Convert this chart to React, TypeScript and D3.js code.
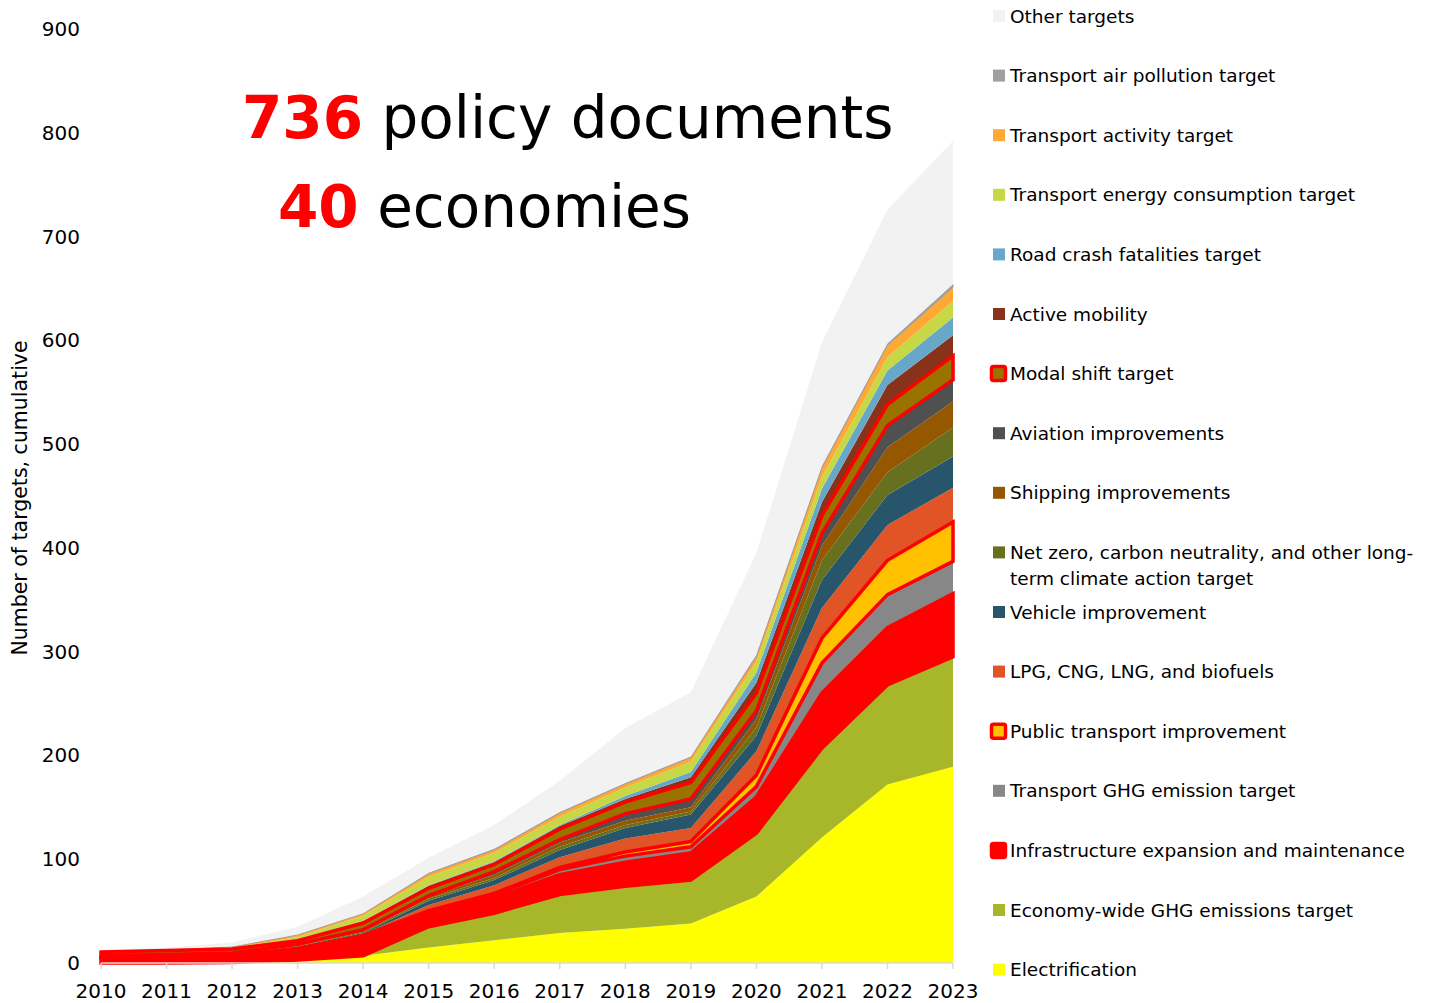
import React, { useEffect } from "react";
import * as d3 from "d3";

const years = [2010, 2011, 2012, 2013, 2014, 2015, 2016, 2017, 2018, 2019, 2020, 2021, 2022, 2023];
const yTicks = [0, 100, 200, 300, 400, 500, 600, 700, 800, 900];

// per-year values (not cumulative across series) for each series, bottom to top
const electrification = [0, 0, 0.5, 3, 7, 15, 22, 29, 33, 38, 64, 121, 172, 189];
const economyWide = [0, 0, 0, 0, 0, 20, 26, 37, 41, 42, 61, 86, 96, 106];
const infrastructure = [5, 6, 6.5, 10, 18, 13, 15, 19, 23, 26, 35, 53, 55, 61];
const transportGhg = [0.2, 0.2, 0.3, 0.5, 1, 2, 3, 5, 6, 6, 10, 29, 32, 31];
const publicTransport = [0.3, 0.3, 0.3, 0.5, 0.5, 0.5, 1, 2, 4, 5, 11, 24, 33, 38];
const lpgBiofuels = [0.5, 0.5, 0.6, 1, 1.5, 5.5, 8, 10, 13, 13, 23, 29, 34, 33];
const vehicleImprovement = [0.2, 0.2, 0.3, 1, 1, 4, 5, 7, 10, 13, 15, 27, 29, 30];
const netZero = [0.2, 0.2, 0.3, 0.5, 1, 2, 2, 3, 3, 3, 8, 19, 22, 28];
const shipping = [0.6, 0.6, 0.7, 1, 1, 2, 3, 4, 4, 4, 8, 14, 24, 25];
const aviation = [0.2, 0.2, 0.2, 0.5, 1, 1, 3, 3, 7, 8, 8, 12, 21, 21];
const modalShift = [3.3, 3.8, 3.8, 3.5, 6.5, 7, 7, 10, 11, 16, 17, 17, 20, 23];
const activeMobility = [0.2, 0.2, 0.2, 0.5, 1.5, 2.5, 2, 3, 3, 5, 10, 13, 19, 20];
const roadCrash = [0.1, 0.1, 0.1, 0.3, 0.5, 0.5, 1, 1, 3, 5, 10, 13, 14, 17];
const energyConsumption = [0.2, 0.2, 0.5, 2.7, 5, 8, 8, 8, 8, 10, 10, 11, 13, 16];
const transportActivity = [0.3, 0.3, 1.2, 2, 2, 3, 3, 3.5, 3.5, 4, 5, 9, 11, 13];
const airPollution = [0.2, 0.2, 0.3, 0.5, 0.5, 1, 1, 1, 1, 1, 2, 2, 2, 3];
const otherTargets = [1, 2, 4, 7.5, 16, 14.5, 23, 30, 53, 62, 98, 119, 129, 138];

const seriesNames = [
  "Electrification",
  "Economy-wide GHG emissions target",
  "Infrastructure expansion and maintenance",
  "Transport GHG emission target",
  "Public transport improvement",
  "LPG, CNG, LNG, and biofuels",
  "Vehicle improvement",
  "Net zero, carbon neutrality, and other long-term climate action target",
  "Shipping improvements",
  "Aviation improvements",
  "Modal shift target",
  "Active mobility",
  "Road crash fatalities target",
  "Transport energy consumption target",
  "Transport activity target",
  "Transport air pollution target",
  "Other targets",
];
const seriesValues = [
  electrification, economyWide, infrastructure, transportGhg, publicTransport, lpgBiofuels,
  vehicleImprovement, netZero, shipping, aviation, modalShift, activeMobility, roadCrash,
  energyConsumption, transportActivity, airPollution, otherTargets,
];
const seriesColors = [
  "#FFFF00", "#A8B62A", "#FF0000", "#878787", "#FFC000", "#E05426", "#27556C", "#66701E",
  "#955700", "#505050", "#997300", "#89321A", "#67A7C9", "#C6D845", "#FFA833", "#A0A0A0", "#F2F2F2",
];
const outlined = [false, false, true, false, true, false, false, false, false, false, true, false, false, false, false, false, false];
const legendLines: string[][] = [
  ["Electrification"],
  ["Economy-wide GHG emissions target"],
  ["Infrastructure expansion and maintenance"],
  ["Transport GHG emission target"],
  ["Public transport improvement"],
  ["LPG, CNG, LNG, and biofuels"],
  ["Vehicle improvement"],
  ["Net zero, carbon neutrality, and other long-", "term climate action target"],
  ["Shipping improvements"],
  ["Aviation improvements"],
  ["Modal shift target"],
  ["Active mobility"],
  ["Road crash fatalities target"],
  ["Transport energy consumption target"],
  ["Transport activity target"],
  ["Transport air pollution target"],
  ["Other targets"],
];

const FONT = "'DejaVu Sans', sans-serif";

export default function App() {
  useEffect(() => {
    document.body.style.margin = "0";
  }, []);

  const x = d3.scaleLinear().domain([2010, 2023]).range([101, 953]);
  const y = d3.scaleLinear().domain([0, 900]).range([963, 29]);

  const rows = years.map((yr, i) => {
    const r: any = { year: yr };
    seriesNames.forEach((n, k) => (r[n] = seriesValues[k][i]));
    return r;
  });
  const stack = d3.stack<any>().keys(seriesNames)(rows);
  const area = d3
    .area<any>()
    .x((d) => x(d.data.year))
    .y0((d) => y(d[0]))
    .y1((d) => y(d[1]))
    .curve(d3.curveLinear);

  const legendX = 993;
  const legendTop = 16;
  const legendStep = 59.6;

  return (
    <svg width={1431} height={1003} style={{ position: "absolute", left: 0, top: 0, background: "#fff" }}>
      {stack.map((s, k) => (
        <path key={"f" + k} d={area(s) || ""} fill={seriesColors[k]} stroke={k === 15 ? "#9a9a9a" : "none"} strokeWidth={k === 15 ? 0.8 : 0} />
      ))}
      {stack.map((s, k) =>
        outlined[k] ? (
          <path key={"o" + k} d={area(s) || ""} fill={seriesColors[k]} stroke="#FF0000" strokeWidth={3.5} strokeLinejoin="miter" />
        ) : null
      )}
      {/* x axis */}
      <line x1={x(2010)} x2={x(2023)} y1={y(0)} y2={y(0)} stroke="#D9D9D9" strokeWidth={1.5} />
      {years.map((yr) => (
        <g key={yr}>
          <line x1={x(yr)} x2={x(yr)} y1={y(0)} y2={y(0) + 6} stroke="#D9D9D9" strokeWidth={1.5} />
          <text x={x(yr)} y={998} textAnchor="middle" fontFamily={FONT} fontSize={20} fill="#000">
            {yr}
          </text>
        </g>
      ))}
      {yTicks.map((t) => (
        <text key={t} x={80} y={y(t)} dominantBaseline="central" textAnchor="end" fontFamily={FONT} fontSize={20} fill="#000">
          {t}
        </text>
      ))}
      <text
        transform={`translate(20,${498}) rotate(-90)`}
        textAnchor="middle"
        dominantBaseline="central"
        fontFamily={FONT}
        fontSize={20.5}
        fill="#000"
      >
        Number of targets, cumulative
      </text>
      {/* headline */}
      <text x={242} y={138} fontFamily={FONT} fontSize={58} fill="#000">
        <tspan fill="#FF0000" fontWeight="bold">736</tspan>
        <tspan> policy documents</tspan>
      </text>
      <text x={278} y={227} fontFamily={FONT} fontSize={58} fill="#000">
        <tspan fill="#FF0000" fontWeight="bold">40</tspan>
        <tspan> economies</tspan>
      </text>
      {/* legend */}
      {seriesNames.map((n, k) => {
        const idx = seriesNames.length - 1 - k;
        const cy = legendTop + idx * legendStep;
        const lines = legendLines[k];
        return (
          <g key={"l" + k}>
            {outlined[k] ? (
              <rect x={legendX - 1.5} y={cy - 7} width={14} height={14} rx={2} fill={seriesColors[k]} stroke="#FF0000" strokeWidth={3.5} />
            ) : (
              <rect x={legendX} y={cy - 6} width={12} height={12} fill={seriesColors[k]} />
            )}
            {lines.map((ln, j) => (
              <text key={j} x={1010} y={cy + j * 26.5} dominantBaseline="central" fontFamily={FONT} fontSize={18.5} fill="#000">
                {ln}
              </text>
            ))}
          </g>
        );
      })}
    </svg>
  );
}
